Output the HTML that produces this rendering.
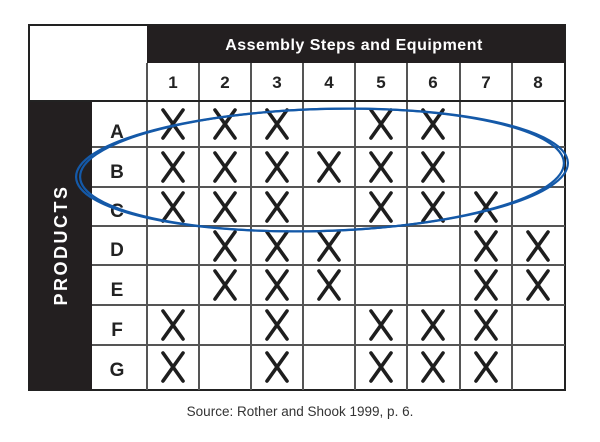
<!DOCTYPE html>
<html><head><style>
html,body{margin:0;padding:0;background:#fff;width:600px;height:442px;overflow:hidden}
svg{display:block}
</style></head><body>
<svg width="600" height="442" viewBox="0 0 600 442" xmlns="http://www.w3.org/2000/svg" font-family="Liberation Sans, Arial, sans-serif">
<rect x="29" y="25" width="536" height="365" fill="#fff" stroke="#222" stroke-width="2"/>
<rect x="147" y="25" width="418" height="38" fill="#231f20"/>
<text x="354" y="50" fill="#fff" font-size="16" font-weight="bold" text-anchor="middle" letter-spacing="0.5">Assembly Steps and Equipment</text>
<rect x="29" y="101" width="63" height="289" fill="#231f20"/>
<text transform="translate(67,245) rotate(-90)" fill="#fff" font-size="18" font-weight="bold" text-anchor="middle" letter-spacing="2.5">PRODUCTS</text>
<g stroke="#555" stroke-width="2" fill="none">
<line x1="147" y1="63" x2="147" y2="390"/>
<line x1="199" y1="63" x2="199" y2="390"/>
<line x1="251" y1="63" x2="251" y2="390"/>
<line x1="303" y1="63" x2="303" y2="390"/>
<line x1="355" y1="63" x2="355" y2="390"/>
<line x1="407" y1="63" x2="407" y2="390"/>
<line x1="460" y1="63" x2="460" y2="390"/>
<line x1="512" y1="63" x2="512" y2="390"/>
<line x1="29" y1="101" x2="565" y2="101" stroke="#222"/>
<line x1="92" y1="147" x2="565" y2="147"/>
<line x1="92" y1="187" x2="565" y2="187"/>
<line x1="92" y1="226" x2="565" y2="226"/>
<line x1="92" y1="265" x2="565" y2="265"/>
<line x1="92" y1="305" x2="565" y2="305"/>
<line x1="92" y1="345" x2="565" y2="345"/>
</g>
<g font-size="17" font-weight="bold" fill="#222" text-anchor="middle">
<text x="173" y="88">1</text><text x="225" y="88">2</text><text x="277" y="88">3</text><text x="329" y="88">4</text>
<text x="381" y="88">5</text><text x="433" y="88">6</text><text x="486" y="88">7</text><text x="538" y="88">8</text>
</g>
<g font-size="19" font-weight="bold" fill="#222" text-anchor="middle">
<text x="117" y="138">A</text><text x="117" y="178">B</text><text x="117" y="217">C</text><text x="117" y="256">D</text>
<text x="117" y="296">E</text><text x="117" y="336">F</text><text x="117" y="376">G</text>
</g>
<g id="marks" stroke="#1e1e1e" stroke-width="3.6" stroke-linecap="round"></g>
<ellipse cx="322" cy="170" rx="246" ry="61" transform="rotate(-1.7 322 170)" fill="none" stroke="#1459a8" stroke-width="2.2"/>
<ellipse cx="322" cy="170" rx="242" ry="61" transform="rotate(-1.7 322 170)" fill="none" stroke="#1459a8" stroke-width="2.2"/>
<text x="300" y="416" font-size="13.5" fill="#333" text-anchor="middle">Source: Rother and Shook 1999, p. 6.</text>
</svg>
<script>
var cols=[173,225,277,329,381,433,486,538];
var rows=[124,167,207,246,285,325,367];
var m=[[1,2,3,5,6],[1,2,3,4,5,6],[1,2,3,5,6,7],[2,3,4,7,8],[2,3,4,7,8],[1,3,5,6,7],[1,3,5,6,7]];
var g=document.getElementById('marks'),s='';
m.forEach(function(r,i){r.forEach(function(c){var x=cols[c-1],y=rows[i];
s+='<line x1="'+(x-10)+'" y1="'+(y-14)+'" x2="'+(x+10)+'" y2="'+(y+14)+'"/><line x1="'+(x+10)+'" y1="'+(y-14)+'" x2="'+(x-10)+'" y2="'+(y+14)+'"/>';});});
g.innerHTML=s;
</script>
</body></html>
